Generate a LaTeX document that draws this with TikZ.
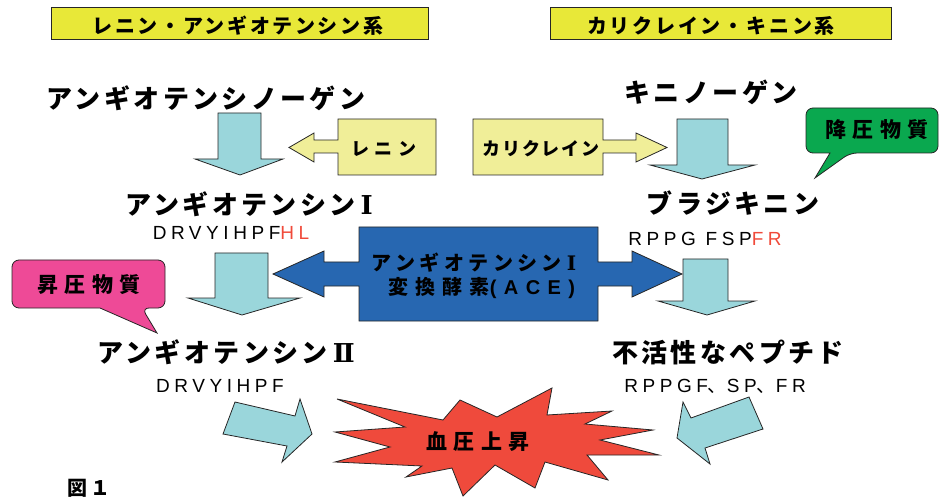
\documentclass[tikz,border=0pt]{standalone}
\usepackage{fontspec}
\setmainfont{Noto Sans CJK JP}
\newfontfamily\lat{Liberation Sans}
\newfontfamily\romn{DejaVu Serif}
\definecolor{titleY}{HTML}{E8E838}
\definecolor{lightY}{HTML}{F0EE98}
\definecolor{cyanA}{HTML}{9AD6DB}
\definecolor{aceB}{HTML}{2767B1}
\definecolor{pinkC}{HTML}{EE4A97}
\definecolor{greenC}{HTML}{0AA84F}
\definecolor{burstR}{HTML}{EF4A3C}
\definecolor{redT}{HTML}{F04A3A}
\newcommand\ls[1]{\addfontfeature{LetterSpace=#1}}
\newcommand\rI{\hspace{5pt}{\romn\bfseries Ⅰ}}
\newcommand\rII{\hspace{5pt}{\romn\bfseries Ⅱ}}
\tikzset{
  outl/.style={draw=black!85, line width=0.8pt, line join=miter},
  titlebox/.style={outl, fill=titleY},
  lightbox/.style={outl, fill=lightY},
  cyanarrow/.style={outl, fill=cyanA},
  acebox/.style={outl, fill=aceB},
  pinkcall/.style={outl, fill=pinkC},
  greencall/.style={outl, fill=greenC},
  burst/.style={outl, fill=burstR},
  txt/.style={inner sep=0pt, outer sep=0pt},
  bigt/.style={txt, font=\bfseries\fontsize{26}{26}\selectfont\ls{13}},
  titlet/.style={txt, font=\bfseries\fontsize{20}{20}\selectfont},
  seqt/.style={txt, font=\fontsize{19}{19}\selectfont\lat\ls{24}},
  callt/.style={txt, font=\bfseries\fontsize{21}{21}\selectfont\ls{30}},
  enzt/.style={txt, font=\bfseries\fontsize{18}{18}\selectfont},
  acet/.style={txt, font=\bfseries\fontsize{20}{20}\selectfont},
}
\begin{document}
\begin{tikzpicture}[x=1pt,y=-1pt]
\useasboundingbox (0,0) rectangle (940,497);
% title boxes
\draw[titlebox] (51,7) rectangle (428,39);
\node[titlet, font=\bfseries\fontsize{20}{20}\selectfont\ls{13}] (t1) at (238,26) {レニン・アンギオテンシン系};
\draw[titlebox] (550,7) rectangle (891,39);
\node[titlet, font=\bfseries\fontsize{20}{20}\selectfont\ls{14}] (t2) at (711,26) {カリクレイン・キニン系};
% main labels
\node[bigt] (angio) at (206,98) {アンギオテンシノーゲン};
\node[bigt] (kinino) at (711,92) {キニノーゲン};
\node[bigt] (ang1) at (249,204) {アンギオテンシン\rI};
\node[bigt] (brady) at (733,203) {ブラジキニン};
\node[bigt] (ang2) at (226,352) {アンギオテンシン\rII};
\node[bigt] (inact) at (728,352) {不活性なペプチド};
% sequences
\node[seqt] (seq1) at (231,232.5) {DRVYIHPF{\color{redT}HL}};
\node[seqt] (seq2) at (705,239) {RPPG FSP{\color{redT}FR}};
\node[seqt] (seq3) at (220,386) {DRVYIHPF};
\node[seqt] (seq4) at (715,386) {RPPGF{\rmfamily\ls{5}、}SP{\rmfamily\ls{5}、}FR};
% vertical block arrows
\draw[cyanarrow] (218,113) -- (261,113) -- (261,159) -- (283,159) -- (240,175) -- (195,159) -- (218,159) -- cycle;
\draw[cyanarrow] (677,119) -- (728,119) -- (728,165) -- (755,165) -- (702,179) -- (650,165) -- (677,165) -- cycle;
\draw[cyanarrow] (215,253) -- (268,253) -- (268,298) -- (300,298) -- (242,315) -- (188,298) -- (215,298) -- cycle;
\draw[cyanarrow] (683,259) -- (728,259) -- (728,301) -- (755,301) -- (707,315) -- (658,301) -- (683,301) -- cycle;
% enzyme callouts
\draw[lightbox] (338,119) -- (436,119) -- (436,175) -- (338,175) -- (338,153) -- (314,153) -- (314,162) -- (289,147.5) -- (314,133) -- (314,140) -- (338,140) -- cycle;
\node[enzt, font=\bfseries\fontsize{18}{18}\selectfont\ls{30}] (renin) at (384,149) {レニン};
\draw[lightbox] (473,119) -- (603,119) -- (603,140) -- (636,140) -- (636,133) -- (667,147.5) -- (636,162) -- (636,153) -- (603,153) -- (603,175) -- (473,175) -- cycle;
\node[enzt, font=\bfseries\fontsize{18}{18}\selectfont\ls{11}] (kall) at (541,149) {カリクレイン};
% ACE
\draw[acebox] (359,227) -- (598,227) -- (598,262) -- (632,262) -- (632,251) -- (682,274) -- (632,297) -- (632,286) -- (598,286) -- (598,321) -- (359,321) -- (359,286) -- (324,286) -- (324,297) -- (273,274) -- (324,251) -- (324,262) -- (359,262) -- cycle;
\node[acet] (ace1) at (474,263) {\ls{22}アンギオテンシン\rI};
\node[acet] (ace2) at (482,288) {{\ls{35}変換酵素}{\lat\bfseries\ls{37}(ACE)}};
% pressor callouts
\draw[pinkcall, rounded corners=7pt] (88,260) -- (165,260) -- (165,308) -- (142,308) [sharp corners] -- (157,333) -- (100,308) [rounded corners=7pt] -- (12,308) -- (12,260) -- cycle;
\node[callt] (press) at (89,285) {昇圧物質};
\draw[greencall, rounded corners=7pt] (870,108) -- (938,108) -- (938,153) -- (850,153) [sharp corners] -- (815,178) -- (830,153) [rounded corners=7pt] -- (806,153) -- (806,108) -- cycle;
\node[callt] (depress) at (877,130) {降圧物質};
% diagonal arrows
\draw[cyanarrow] (235,402) -- (295,416) -- (300,399) -- (312,434) -- (282,462) -- (287,446) -- (223,434) -- cycle;
\draw[cyanarrow] (749,397) -- (763,429) -- (705,448) -- (710,464) -- (677,438) -- (683,402) -- (691,418) -- cycle;
% burst
\draw[burst] (337,399) -- (443,420) -- (460,400) -- (497,417) -- (552,388) -- (547,415) -- (612,411) -- (585,424) -- (653,430) -- (600,440) -- (659,455) -- (587,455) -- (608,480) -- (545,462) -- (535,488) -- (495,465) -- (463,496) -- (452,468) -- (406,477) -- (422,466) -- (335,462) -- (390,447) -- (335,432) -- (405,427) -- cycle;
\node[callt] (bp) at (478,442) {血圧上昇};
% figure label
\node[txt, font=\bfseries\fontsize{20}{20}\selectfont\ls{15}] (fig) at (89,488) {図１};
\end{tikzpicture}
\end{document}
